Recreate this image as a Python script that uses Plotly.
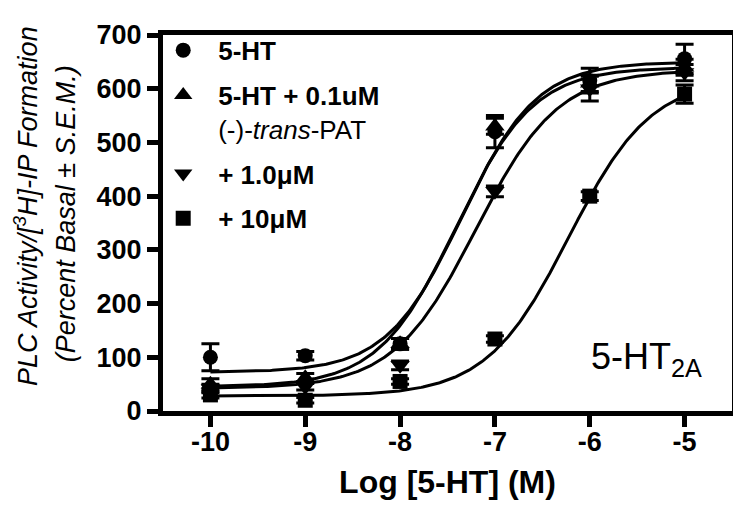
import numpy as np
import plotly.graph_objects as go

# ---- data ----
log_conc = [-10, -9, -8, -7, -6, -5]

ht = [100, 103, 125, 520, 615, 656]
ht_err = [25, 8, 10, 30, 23, 27]

pat01 = [50, 62, 125, 530, 610, 640]
pat01_err = [10, 8, 10, 15, 15, 15]

pat1 = [42, 45, 85, 409, 600, 630]
pat1_err = [8, 6, 8, 10, 23, 15]

pat10 = [30, 20, 55, 134, 400, 590]
pat10_err = [6, 5, 5, 6, 8, 17]

names = ["<b>5-HT</b>",
         "<b>5-HT + 0.1uM</b><br>(-)-<i>trans</i>-PAT",
         "<b>+ 1.0μM</b>",
         "<b>+ 10μM</b>"]
symbols = ["circle", "triangle-up", "triangle-down", "square"]

# fitted sigmoid parameters (bottom, top, logEC50, hill)
fit_bottom = [72, 45, 42, 28]
fit_top = [650, 640, 635, 620]
fit_logec50 = [-7.35, -7.41, -7.2, -6.22]
fit_hill = [1.1, 1.06, 1.0, 1.0]

series = [ht, pat01, pat1, pat10]
errors = [ht_err, pat01_err, pat1_err, pat10_err]

FONT = "Liberation Sans, Arial, sans-serif"

fig = go.Figure()

xs = np.linspace(log_conc[0], log_conc[-1], 300)
for b, t, ec, h in zip(fit_bottom, fit_top, fit_logec50, fit_hill):
    ys = b + (t - b) / (1 + 10 ** ((ec - xs) * h))
    fig.add_trace(go.Scatter(x=xs, y=ys, mode="lines",
                             line=dict(color="black", width=3),
                             showlegend=False, hoverinfo="skip"))

sizes = [15, 17, 17, 15]
for i, (vals, errs, nm, sym) in enumerate(zip(series, errors, names, symbols)):
    fig.add_trace(go.Scatter(
        x=log_conc, y=vals, mode="markers", name=nm,
        legendgroup=f"g{i}",
        marker=dict(symbol=sym, size=sizes[i], color="black"),
        error_y=dict(type="data", array=errs, visible=True,
                     color="black", thickness=3, width=9),
    ))

fig.update_layout(
    width=741, height=508,
    margin=dict(l=155, r=13, t=21, b=105),
    paper_bgcolor="white", plot_bgcolor="white",
    font=dict(family=FONT, color="black"),
    showlegend=True,
    legend=dict(x=-0.026, y=1.022, xanchor="left", yanchor="top",
                bgcolor="rgba(0,0,0,0)", borderwidth=0,
                font=dict(size=26, family=FONT, color="black"),
                itemwidth=60,
                valign="top", tracegroupgap=8),
    xaxis=dict(range=[-10.5, -4.5], tickvals=log_conc,
               ticktext=[str(v) for v in log_conc],
               showline=True, linecolor="black", linewidth=5, mirror=True,
               ticks="outside", ticklen=11, tickwidth=5, tickcolor="black",
               showgrid=False, zeroline=False, ticklabelstandoff=-8,
               tickfont=dict(size=27, family=FONT, weight="bold"),
               title=dict(text="Log [5-HT] (M)", standoff=16,
                          font=dict(size=32, family=FONT, weight="bold"))),
    yaxis=dict(range=[0, 700], tickvals=[0, 100, 200, 300, 400, 500, 600, 700],
               showline=True, linecolor="black", linewidth=5, mirror=True,
               ticks="outside", ticklen=11, tickwidth=5, tickcolor="black",
               showgrid=False, zeroline=False,
               tickfont=dict(size=27, family=FONT, weight="bold")),
    annotations=[
        dict(text="<i>PLC Activity/[<sup>3</sup>H]-IP Formation</i>",
             xref="paper", yref="paper", x=-0.241, y=0.545,
             xanchor="center", yanchor="middle", textangle=-90,
             showarrow=False, font=dict(size=27, family=FONT)),
        dict(text="<i>(Percent Basal ± S.E.M.)</i>",
             xref="paper", yref="paper", x=-0.170, y=0.524,
             xanchor="center", yanchor="middle", textangle=-90,
             showarrow=False, font=dict(size=27, family=FONT)),
        dict(text="5-HT<sub>2A</sub>", xref="paper", yref="paper",
             x=0.951, y=0.071, xanchor="right", yanchor="bottom",
             showarrow=False, font=dict(size=36, family=FONT)),
    ],
)

fig.write_html("out.html")
